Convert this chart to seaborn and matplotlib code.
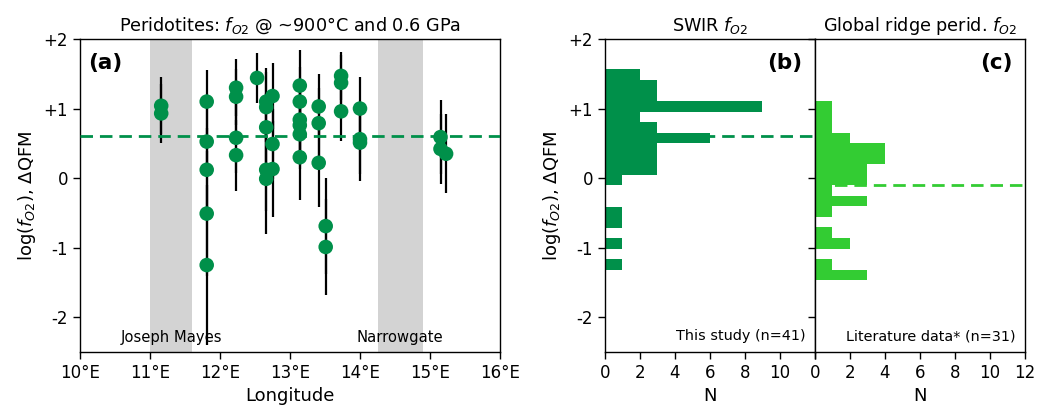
import numpy as np
import pandas as pd
import matplotlib
matplotlib.use("Agg")
import matplotlib.pyplot as plt
import seaborn as sns

# ---------------- data ----------------
lon = [11.16, 11.16,
       11.81, 11.81, 11.81, 11.81, 11.81,
       12.23, 12.23, 12.23, 12.23,
       12.53,
       12.66, 12.66, 12.66, 12.66, 12.66,
       12.75, 12.75, 12.75,
       13.14, 13.14, 13.14, 13.14, 13.14, 13.14,
       13.41, 13.41, 13.41,
       13.51, 13.51,
       13.73, 13.73, 13.73,
       14.00, 14.00, 14.00,
       15.15, 15.15,
       15.23]
dqfm = [1.04, 0.93,
        1.10, 0.525, 0.12, -0.51, -1.25,
        1.30, 1.17, 0.58, 0.33,
        1.44,
        1.10, 1.02, 0.73, 0.12, -0.01,
        1.18, 0.49, 0.13,
        1.33, 1.10, 0.84, 0.76, 0.63, 0.30,
        1.03, 0.79, 0.22,
        -0.69, -0.99,
        1.47, 1.37, 0.96,
        1.00, 0.56, 0.51,
        0.59, 0.42,
        0.35]
dqfm_err = [0.41, 0.43,
            0.46, 0.50, 0.60, 0.90, 1.15,
            0.41, 0.40, 0.50, 0.51,
            0.36,
            0.49, 0.50, 0.50, 0.60, 0.80,
            0.47, 0.50, 0.69,
            0.51, 0.50, 0.50, 0.50, 0.50, 0.61,
            0.46, 0.50, 0.64,
            0.69, 0.69,
            0.34, 0.40, 0.42,
            0.45, 0.50, 0.55,
            0.53, 0.50,
            0.57]
swir_mean = 0.61

# SWIR histogram (this study)
swir_bin_lo, swir_bin_hi, swir_nbins = -1.32, 1.564, 19
swir_counts = [1, 0, 1, 0, 1, 1, 0, 0, 1, 3, 3, 3, 6, 3, 2, 9, 3, 3, 2]

# Global ridge peridotites (literature)
glob_bin_lo, glob_bin_hi, glob_nbins = -1.467, 1.108, 17
glob_counts = [3, 1, 0, 2, 1, 0, 1, 3, 1, 3, 3, 4, 4, 2, 1, 1, 1]
glob_mean = -0.095

bands = [(11.0, 11.6, "Joseph Mayes"), (14.25, 14.9, "Narrowgate")]

lon_ticks = [10, 11, 12, 13, 14, 15, 16]
lon_labels = ["10°E", "11°E", "12°E", "13°E", "14°E", "15°E", "16°E"]
y_ticks = [-2, -1, 0, 1, 2]
y_labels = ["-2", "-1", "0", "+1", "+2"]
n_ticks = [0, 2, 4, 6, 8, 10, 12]

DARK = "#00904A"
LIGHT = "#33CC33"

# ---------------- style ----------------
sns.set_style("ticks")
plt.rcParams["font.family"] = ["DejaVu Sans"]
plt.rcParams["mathtext.fontset"] = "dejavusans"
for k in ("text.color", "axes.labelcolor", "xtick.color", "ytick.color", "axes.edgecolor"):
    plt.rcParams[k] = "black"

fig = plt.figure(figsize=(10.38, 4.09), dpi=100)
W, H = 1038, 409
def ax_at(l, r, t, b):
    return fig.add_axes([l / W, 1 - b / H, (r - l) / W, (b - t) / H])

axa = ax_at(80, 500, 39, 352)
axb = ax_at(604.7, 814.7, 39, 352)
axc = ax_at(814.7, 1024.7, 39, 352)

FS = 12
FL = 13
FT = 12.7
FP = 15.5
FN = 10.4
ylab = r"log($f_{O2}$), $\Delta$QFM"

# ---- panel (a) ----
df = pd.DataFrame({"lon": lon, "dqfm": dqfm, "err": dqfm_err})
for lo, hi, name in bands:
    axa.axvspan(lo, hi, color="#d3d3d3", lw=0, zorder=0)
    axa.text((lo + hi) / 2, -2.29, name, ha="center", va="center", fontsize=10.6, zorder=5)
axa.errorbar(df["lon"], df["dqfm"], yerr=df["err"], fmt="none", ecolor="black",
             elinewidth=1.6, capsize=0, zorder=2)
axa.axhline(swir_mean, color=DARK, lw=2, ls=(0, (4.5, 2.5)), zorder=3)
sns.scatterplot(data=df, x="lon", y="dqfm", ax=axa, color=DARK, s=110,
                edgecolor="none", linewidth=0, zorder=4)
axa.set_xlim(10, 16)
axa.set_ylim(-2.5, 2)
axa.set_xticks(lon_ticks)
axa.set_xticklabels(lon_labels, fontsize=FS)
axa.set_yticks(y_ticks)
axa.set_yticklabels(y_labels, fontsize=FS)
axa.set_xlabel("Longitude", fontsize=FL)
axa.set_ylabel(ylab, fontsize=FL)
axa.set_title(r"Peridotites: $f_{O2}$ @ ~900°C and 0.6 GPa", fontsize=FT)
axa.text(0.02, 0.955, "(a)", transform=axa.transAxes, fontsize=FP,
         fontweight="bold", ha="left", va="top")

# ---- panel (b) ----
sw_edges = np.linspace(swir_bin_lo, swir_bin_hi, swir_nbins + 1)
sw_df = pd.DataFrame({"v": (sw_edges[:-1] + sw_edges[1:]) / 2, "n": swir_counts})
axb.axhline(swir_mean, color=DARK, lw=2, ls=(0, (4.5, 2.5)), zorder=1)
sns.histplot(data=sw_df, y="v", weights="n", bins=sw_edges.tolist(), ax=axb,
             color=DARK, alpha=1, linewidth=0, edgecolor="none", zorder=2)
axb.set_xlim(0, 12)
axb.set_ylim(-2.5, 2)
axb.set_xticks(n_ticks)
axb.set_xticklabels([str(t) if t < 12 else "" for t in n_ticks], fontsize=FS)
axb.set_yticks(y_ticks)
axb.set_yticklabels(y_labels, fontsize=FS)
axb.set_xlabel("N", fontsize=FL)
axb.set_ylabel(ylab, fontsize=FL)
axb.set_title(r"SWIR $f_{O2}$", fontsize=FT)
axb.text(0.941, 0.955, "(b)", transform=axb.transAxes, fontsize=FP,
         fontweight="bold", ha="right", va="top")
axb.text(0.955, 0.028, "This study (n=41)", transform=axb.transAxes, fontsize=FN,
         ha="right", va="bottom")

# ---- panel (c) ----
gl_edges = np.linspace(glob_bin_lo, glob_bin_hi, glob_nbins + 1)
gl_df = pd.DataFrame({"v": (gl_edges[:-1] + gl_edges[1:]) / 2, "n": glob_counts})
axc.axhline(glob_mean, color=LIGHT, lw=2, ls=(0, (4.5, 2.5)), zorder=1)
sns.histplot(data=gl_df, y="v", weights="n", bins=gl_edges.tolist(), ax=axc,
             color=LIGHT, alpha=1, linewidth=0, edgecolor="none", zorder=2)
axc.set_xlim(0, 12)
axc.set_ylim(-2.5, 2)
axc.set_xticks(n_ticks)
axc.set_xticklabels([str(t) for t in n_ticks], fontsize=FS)
axc.set_yticks(y_ticks)
axc.set_yticklabels([])
axc.set_xlabel("N", fontsize=FL)
axc.set_ylabel("")
axc.set_title(r"Global ridge perid. $f_{O2}$", fontsize=FT)
axc.text(0.941, 0.955, "(c)", transform=axc.transAxes, fontsize=FP,
         fontweight="bold", ha="right", va="top")
axc.text(0.955, 0.028, "Literature data* (n=31)", transform=axc.transAxes, fontsize=FN,
         ha="right", va="bottom")

for ax in (axa, axb, axc):
    for s in ax.spines.values():
        s.set_visible(True)
        s.set_color("black")
        s.set_linewidth(1.0)
    ax.tick_params(direction="out", length=5, width=1, colors="black")

fig.savefig("out.png", dpi=100)
